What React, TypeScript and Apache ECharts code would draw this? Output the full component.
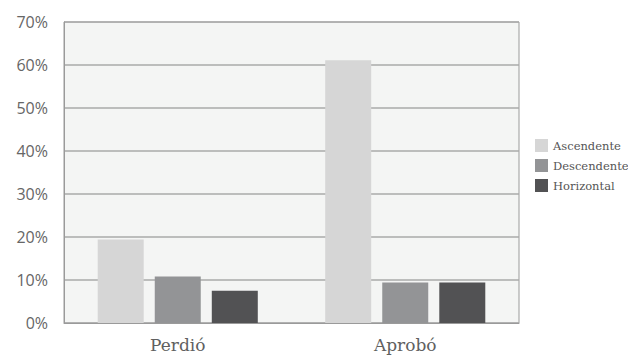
import React, { useEffect, useRef } from "react";
import * as echarts from "echarts";

const categories = ["Perdió", "Aprobó"];
const seriesNames = ["Ascendente", "Descendente", "Horizontal"];
const ascendente = [19.4, 61.1];
const descendente = [10.8, 9.4];
const horizontal = [7.5, 9.4];
const colors = ["#d6d6d6", "#939496", "#525254"];

export default function App() {
  const ref = useRef<HTMLDivElement>(null);
  useEffect(() => {
    document.body.style.margin = "0";
    const chart = echarts.init(ref.current!, null, { renderer: "svg" });
    const data = [ascendente, descendente, horizontal];
    chart.setOption({
      animation: false,
      backgroundColor: "#ffffff",
      grid: {
        left: 64,
        right: 109,
        top: 22,
        bottom: 32,
        show: true,
        backgroundColor: "#f4f5f4",
        borderColor: "#9a9a9a",
        borderWidth: 1,
      },
      legend: {
        orient: "vertical",
        left: 530,
        top: 134,
        itemWidth: 13,
        itemHeight: 13,
        itemGap: 7,
        icon: "rect",
        data: seriesNames,
        textStyle: { fontFamily: "DejaVu Serif", fontSize: 11.5, color: "#555" },
      },
      xAxis: {
        type: "category",
        data: categories,
        axisTick: { show: false },
        axisLine: { lineStyle: { color: "#9a9a9a" } },
        axisLabel: {
          fontFamily: "DejaVu Serif",
          fontSize: 17,
          color: "#606060",
          margin: 13,
        },
      },
      yAxis: {
        type: "value",
        min: 0,
        max: 70,
        interval: 10,
        axisLine: { show: true, lineStyle: { color: "#9a9a9a" } },
        axisTick: { show: false },
        splitLine: { lineStyle: { color: "#aaaaaa", width: 1.5 } },
        axisLabel: {
          formatter: "{value}%",
          fontFamily: "Open Sans",
          fontSize: 16,
          color: "#666",
          margin: 16,
        },
      },
      series: seriesNames.map((name, i) => ({
        name,
        type: "bar",
        data: data[i],
        barWidth: 46,
        barGap: "24%",
        itemStyle: { color: colors[i] },
      })),
    });
    return () => chart.dispose();
  }, []);
  return <div ref={ref} style={{ width: 628, height: 355 }} />;
}
